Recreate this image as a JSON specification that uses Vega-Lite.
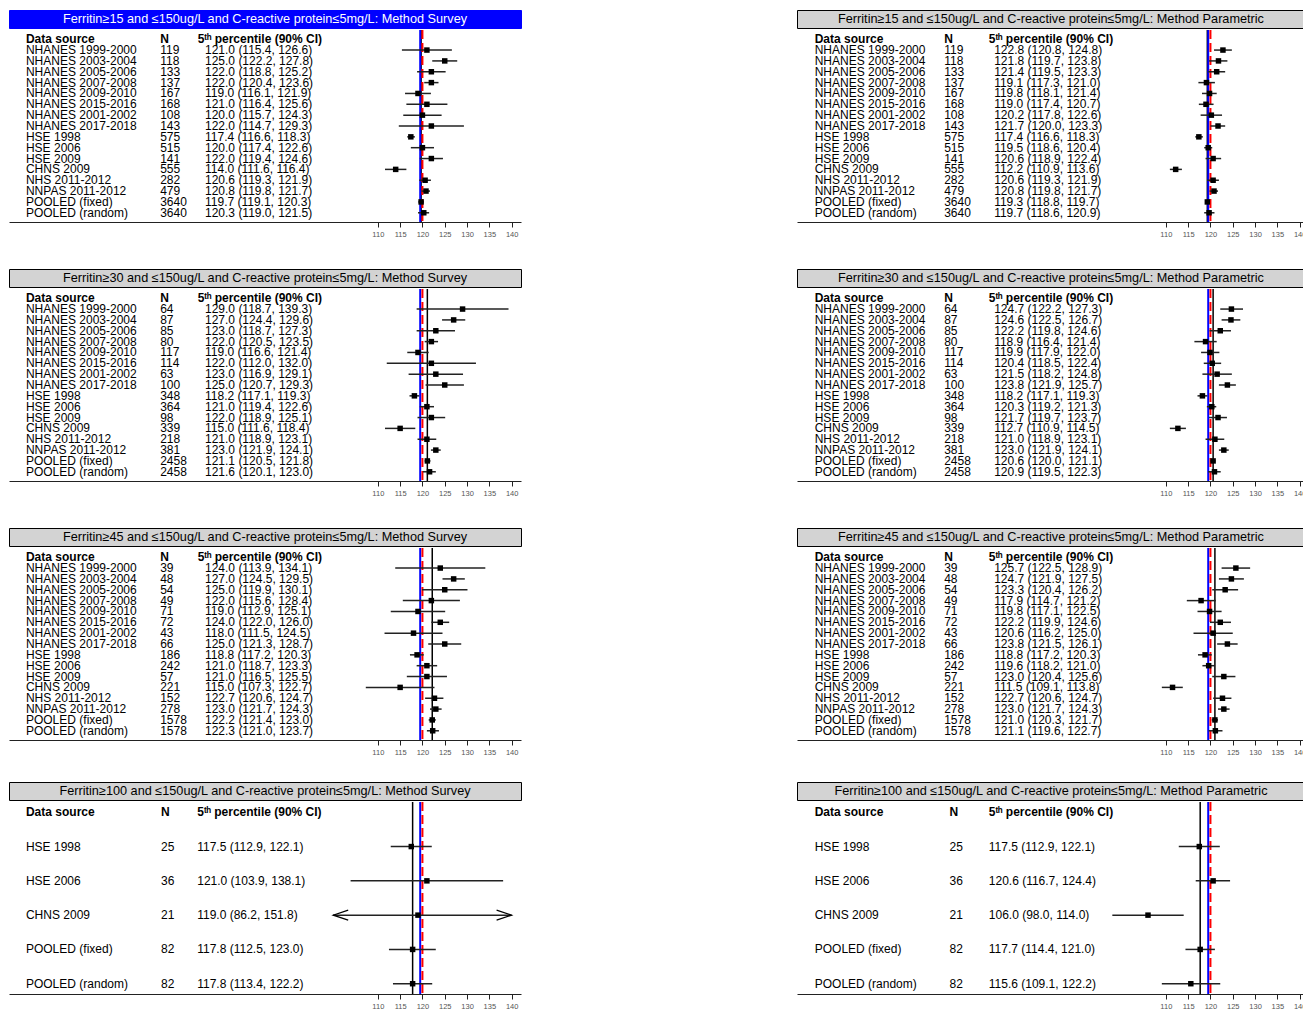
{
"$schema": "https://vega.github.io/schema/vega-lite/v6.json",
"padding": {"left": 8, "top": 9, "right": 0, "bottom": 0},
"background": "white",
"config": {
  "font": "Liberation Sans",
  "view": {"stroke": null},
  "text": {"font": "Liberation Sans", "fontSize": 12, "align": "left", "baseline": "middle", "color": "black"},
  "axisY": {"disable": true},
  "axisX": {"grid": false, "domainColor": "#222222", "domainWidth": 1, "tickColor": "#222222", "tickSize": 5, "tickWidth": 1, "labelFont": "Liberation Sans", "labelFontSize": 7.5, "labelColor": "#555555", "labelPadding": 3}
},
"datasets": {
"p1": [
{"source":"NHANES 1999-2000","n":119,"est":121.0,"lo":115.4,"hi":126.6,"ci":"121.0 (115.4, 126.6)"},
{"source":"NHANES 2003-2004","n":118,"est":125.0,"lo":122.2,"hi":127.8,"ci":"125.0 (122.2, 127.8)"},
{"source":"NHANES 2005-2006","n":133,"est":122.0,"lo":118.8,"hi":125.2,"ci":"122.0 (118.8, 125.2)"},
{"source":"NHANES 2007-2008","n":137,"est":122.0,"lo":120.4,"hi":123.6,"ci":"122.0 (120.4, 123.6)"},
{"source":"NHANES 2009-2010","n":167,"est":119.0,"lo":116.1,"hi":121.9,"ci":"119.0 (116.1, 121.9)"},
{"source":"NHANES 2015-2016","n":168,"est":121.0,"lo":116.4,"hi":125.6,"ci":"121.0 (116.4, 125.6)"},
{"source":"NHANES 2001-2002","n":108,"est":120.0,"lo":115.7,"hi":124.3,"ci":"120.0 (115.7, 124.3)"},
{"source":"NHANES 2017-2018","n":143,"est":122.0,"lo":114.7,"hi":129.3,"ci":"122.0 (114.7, 129.3)"},
{"source":"HSE 1998","n":575,"est":117.4,"lo":116.6,"hi":118.3,"ci":"117.4 (116.6, 118.3)"},
{"source":"HSE 2006","n":515,"est":120.0,"lo":117.4,"hi":122.6,"ci":"120.0 (117.4, 122.6)"},
{"source":"HSE 2009","n":141,"est":122.0,"lo":119.4,"hi":124.6,"ci":"122.0 (119.4, 124.6)"},
{"source":"CHNS 2009","n":555,"est":114.0,"lo":111.6,"hi":116.4,"ci":"114.0 (111.6, 116.4)"},
{"source":"NHS 2011-2012","n":282,"est":120.6,"lo":119.3,"hi":121.9,"ci":"120.6 (119.3, 121.9)"},
{"source":"NNPAS 2011-2012","n":479,"est":120.8,"lo":119.8,"hi":121.7,"ci":"120.8 (119.8, 121.7)"},
{"source":"POOLED (fixed)","n":3640,"est":119.7,"lo":119.1,"hi":120.3,"ci":"119.7 (119.1, 120.3)"},
{"source":"POOLED (random)","n":3640,"est":120.3,"lo":119.0,"hi":121.5,"ci":"120.3 (119.0, 121.5)"}
],
"p2": [
{"source":"NHANES 1999-2000","n":119,"est":122.8,"lo":120.8,"hi":124.8,"ci":"122.8 (120.8, 124.8)"},
{"source":"NHANES 2003-2004","n":118,"est":121.8,"lo":119.7,"hi":123.8,"ci":"121.8 (119.7, 123.8)"},
{"source":"NHANES 2005-2006","n":133,"est":121.4,"lo":119.5,"hi":123.3,"ci":"121.4 (119.5, 123.3)"},
{"source":"NHANES 2007-2008","n":137,"est":119.1,"lo":117.3,"hi":121.0,"ci":"119.1 (117.3, 121.0)"},
{"source":"NHANES 2009-2010","n":167,"est":119.8,"lo":118.1,"hi":121.4,"ci":"119.8 (118.1, 121.4)"},
{"source":"NHANES 2015-2016","n":168,"est":119.0,"lo":117.4,"hi":120.7,"ci":"119.0 (117.4, 120.7)"},
{"source":"NHANES 2001-2002","n":108,"est":120.2,"lo":117.8,"hi":122.6,"ci":"120.2 (117.8, 122.6)"},
{"source":"NHANES 2017-2018","n":143,"est":121.7,"lo":120.0,"hi":123.3,"ci":"121.7 (120.0, 123.3)"},
{"source":"HSE 1998","n":575,"est":117.4,"lo":116.6,"hi":118.3,"ci":"117.4 (116.6, 118.3)"},
{"source":"HSE 2006","n":515,"est":119.5,"lo":118.6,"hi":120.4,"ci":"119.5 (118.6, 120.4)"},
{"source":"HSE 2009","n":141,"est":120.6,"lo":118.9,"hi":122.4,"ci":"120.6 (118.9, 122.4)"},
{"source":"CHNS 2009","n":555,"est":112.2,"lo":110.9,"hi":113.6,"ci":"112.2 (110.9, 113.6)"},
{"source":"NHS 2011-2012","n":282,"est":120.6,"lo":119.3,"hi":121.9,"ci":"120.6 (119.3, 121.9)"},
{"source":"NNPAS 2011-2012","n":479,"est":120.8,"lo":119.8,"hi":121.7,"ci":"120.8 (119.8, 121.7)"},
{"source":"POOLED (fixed)","n":3640,"est":119.3,"lo":118.8,"hi":119.7,"ci":"119.3 (118.8, 119.7)"},
{"source":"POOLED (random)","n":3640,"est":119.7,"lo":118.6,"hi":120.9,"ci":"119.7 (118.6, 120.9)"}
],
"p3": [
{"source":"NHANES 1999-2000","n":64,"est":129.0,"lo":118.7,"hi":139.3,"ci":"129.0 (118.7, 139.3)"},
{"source":"NHANES 2003-2004","n":87,"est":127.0,"lo":124.4,"hi":129.6,"ci":"127.0 (124.4, 129.6)"},
{"source":"NHANES 2005-2006","n":85,"est":123.0,"lo":118.7,"hi":127.3,"ci":"123.0 (118.7, 127.3)"},
{"source":"NHANES 2007-2008","n":80,"est":122.0,"lo":120.5,"hi":123.5,"ci":"122.0 (120.5, 123.5)"},
{"source":"NHANES 2009-2010","n":117,"est":119.0,"lo":116.6,"hi":121.4,"ci":"119.0 (116.6, 121.4)"},
{"source":"NHANES 2015-2016","n":114,"est":122.0,"lo":112.0,"hi":132.0,"ci":"122.0 (112.0, 132.0)"},
{"source":"NHANES 2001-2002","n":63,"est":123.0,"lo":116.9,"hi":129.1,"ci":"123.0 (116.9, 129.1)"},
{"source":"NHANES 2017-2018","n":100,"est":125.0,"lo":120.7,"hi":129.3,"ci":"125.0 (120.7, 129.3)"},
{"source":"HSE 1998","n":348,"est":118.2,"lo":117.1,"hi":119.3,"ci":"118.2 (117.1, 119.3)"},
{"source":"HSE 2006","n":364,"est":121.0,"lo":119.4,"hi":122.6,"ci":"121.0 (119.4, 122.6)"},
{"source":"HSE 2009","n":98,"est":122.0,"lo":118.9,"hi":125.1,"ci":"122.0 (118.9, 125.1)"},
{"source":"CHNS 2009","n":339,"est":115.0,"lo":111.6,"hi":118.4,"ci":"115.0 (111.6, 118.4)"},
{"source":"NHS 2011-2012","n":218,"est":121.0,"lo":118.9,"hi":123.1,"ci":"121.0 (118.9, 123.1)"},
{"source":"NNPAS 2011-2012","n":381,"est":123.0,"lo":121.9,"hi":124.1,"ci":"123.0 (121.9, 124.1)"},
{"source":"POOLED (fixed)","n":2458,"est":121.1,"lo":120.5,"hi":121.8,"ci":"121.1 (120.5, 121.8)"},
{"source":"POOLED (random)","n":2458,"est":121.6,"lo":120.1,"hi":123.0,"ci":"121.6 (120.1, 123.0)"}
],
"p4": [
{"source":"NHANES 1999-2000","n":64,"est":124.7,"lo":122.2,"hi":127.3,"ci":"124.7 (122.2, 127.3)"},
{"source":"NHANES 2003-2004","n":87,"est":124.6,"lo":122.5,"hi":126.7,"ci":"124.6 (122.5, 126.7)"},
{"source":"NHANES 2005-2006","n":85,"est":122.2,"lo":119.8,"hi":124.6,"ci":"122.2 (119.8, 124.6)"},
{"source":"NHANES 2007-2008","n":80,"est":118.9,"lo":116.4,"hi":121.4,"ci":"118.9 (116.4, 121.4)"},
{"source":"NHANES 2009-2010","n":117,"est":119.9,"lo":117.9,"hi":122.0,"ci":"119.9 (117.9, 122.0)"},
{"source":"NHANES 2015-2016","n":114,"est":120.4,"lo":118.5,"hi":122.4,"ci":"120.4 (118.5, 122.4)"},
{"source":"NHANES 2001-2002","n":63,"est":121.5,"lo":118.2,"hi":124.8,"ci":"121.5 (118.2, 124.8)"},
{"source":"NHANES 2017-2018","n":100,"est":123.8,"lo":121.9,"hi":125.7,"ci":"123.8 (121.9, 125.7)"},
{"source":"HSE 1998","n":348,"est":118.2,"lo":117.1,"hi":119.3,"ci":"118.2 (117.1, 119.3)"},
{"source":"HSE 2006","n":364,"est":120.3,"lo":119.2,"hi":121.3,"ci":"120.3 (119.2, 121.3)"},
{"source":"HSE 2009","n":98,"est":121.7,"lo":119.7,"hi":123.7,"ci":"121.7 (119.7, 123.7)"},
{"source":"CHNS 2009","n":339,"est":112.7,"lo":110.9,"hi":114.5,"ci":"112.7 (110.9, 114.5)"},
{"source":"NHS 2011-2012","n":218,"est":121.0,"lo":118.9,"hi":123.1,"ci":"121.0 (118.9, 123.1)"},
{"source":"NNPAS 2011-2012","n":381,"est":123.0,"lo":121.9,"hi":124.1,"ci":"123.0 (121.9, 124.1)"},
{"source":"POOLED (fixed)","n":2458,"est":120.6,"lo":120.0,"hi":121.1,"ci":"120.6 (120.0, 121.1)"},
{"source":"POOLED (random)","n":2458,"est":120.9,"lo":119.5,"hi":122.3,"ci":"120.9 (119.5, 122.3)"}
],
"p5": [
{"source":"NHANES 1999-2000","n":39,"est":124.0,"lo":113.9,"hi":134.1,"ci":"124.0 (113.9, 134.1)"},
{"source":"NHANES 2003-2004","n":48,"est":127.0,"lo":124.5,"hi":129.5,"ci":"127.0 (124.5, 129.5)"},
{"source":"NHANES 2005-2006","n":54,"est":125.0,"lo":119.9,"hi":130.1,"ci":"125.0 (119.9, 130.1)"},
{"source":"NHANES 2007-2008","n":49,"est":122.0,"lo":115.6,"hi":128.4,"ci":"122.0 (115.6, 128.4)"},
{"source":"NHANES 2009-2010","n":71,"est":119.0,"lo":112.9,"hi":125.1,"ci":"119.0 (112.9, 125.1)"},
{"source":"NHANES 2015-2016","n":72,"est":124.0,"lo":122.0,"hi":126.0,"ci":"124.0 (122.0, 126.0)"},
{"source":"NHANES 2001-2002","n":43,"est":118.0,"lo":111.5,"hi":124.5,"ci":"118.0 (111.5, 124.5)"},
{"source":"NHANES 2017-2018","n":66,"est":125.0,"lo":121.3,"hi":128.7,"ci":"125.0 (121.3, 128.7)"},
{"source":"HSE 1998","n":186,"est":118.8,"lo":117.2,"hi":120.3,"ci":"118.8 (117.2, 120.3)"},
{"source":"HSE 2006","n":242,"est":121.0,"lo":118.7,"hi":123.3,"ci":"121.0 (118.7, 123.3)"},
{"source":"HSE 2009","n":57,"est":121.0,"lo":116.5,"hi":125.5,"ci":"121.0 (116.5, 125.5)"},
{"source":"CHNS 2009","n":221,"est":115.0,"lo":107.3,"hi":122.7,"ci":"115.0 (107.3, 122.7)"},
{"source":"NHS 2011-2012","n":152,"est":122.7,"lo":120.6,"hi":124.7,"ci":"122.7 (120.6, 124.7)"},
{"source":"NNPAS 2011-2012","n":278,"est":123.0,"lo":121.7,"hi":124.3,"ci":"123.0 (121.7, 124.3)"},
{"source":"POOLED (fixed)","n":1578,"est":122.2,"lo":121.4,"hi":123.0,"ci":"122.2 (121.4, 123.0)"},
{"source":"POOLED (random)","n":1578,"est":122.3,"lo":121.0,"hi":123.7,"ci":"122.3 (121.0, 123.7)"}
],
"p6": [
{"source":"NHANES 1999-2000","n":39,"est":125.7,"lo":122.5,"hi":128.9,"ci":"125.7 (122.5, 128.9)"},
{"source":"NHANES 2003-2004","n":48,"est":124.7,"lo":121.9,"hi":127.5,"ci":"124.7 (121.9, 127.5)"},
{"source":"NHANES 2005-2006","n":54,"est":123.3,"lo":120.4,"hi":126.2,"ci":"123.3 (120.4, 126.2)"},
{"source":"NHANES 2007-2008","n":49,"est":117.9,"lo":114.7,"hi":121.2,"ci":"117.9 (114.7, 121.2)"},
{"source":"NHANES 2009-2010","n":71,"est":119.8,"lo":117.1,"hi":122.5,"ci":"119.8 (117.1, 122.5)"},
{"source":"NHANES 2015-2016","n":72,"est":122.2,"lo":119.9,"hi":124.6,"ci":"122.2 (119.9, 124.6)"},
{"source":"NHANES 2001-2002","n":43,"est":120.6,"lo":116.2,"hi":125.0,"ci":"120.6 (116.2, 125.0)"},
{"source":"NHANES 2017-2018","n":66,"est":123.8,"lo":121.5,"hi":126.1,"ci":"123.8 (121.5, 126.1)"},
{"source":"HSE 1998","n":186,"est":118.8,"lo":117.2,"hi":120.3,"ci":"118.8 (117.2, 120.3)"},
{"source":"HSE 2006","n":242,"est":119.6,"lo":118.2,"hi":121.0,"ci":"119.6 (118.2, 121.0)"},
{"source":"HSE 2009","n":57,"est":123.0,"lo":120.4,"hi":125.6,"ci":"123.0 (120.4, 125.6)"},
{"source":"CHNS 2009","n":221,"est":111.5,"lo":109.1,"hi":113.8,"ci":"111.5 (109.1, 113.8)"},
{"source":"NHS 2011-2012","n":152,"est":122.7,"lo":120.6,"hi":124.7,"ci":"122.7 (120.6, 124.7)"},
{"source":"NNPAS 2011-2012","n":278,"est":123.0,"lo":121.7,"hi":124.3,"ci":"123.0 (121.7, 124.3)"},
{"source":"POOLED (fixed)","n":1578,"est":121.0,"lo":120.3,"hi":121.7,"ci":"121.0 (120.3, 121.7)"},
{"source":"POOLED (random)","n":1578,"est":121.1,"lo":119.6,"hi":122.7,"ci":"121.1 (119.6, 122.7)"}
],
"p7": [
{"source":"HSE 1998","n":25,"est":117.5,"lo":112.9,"hi":122.1,"ci":"117.5 (112.9, 122.1)"},
{"source":"HSE 2006","n":36,"est":121.0,"lo":103.9,"hi":138.1,"ci":"121.0 (103.9, 138.1)"},
{"source":"CHNS 2009","n":21,"est":119.0,"lo":86.2,"hi":151.8,"ci":"119.0 (86.2, 151.8)"},
{"source":"POOLED (fixed)","n":82,"est":117.8,"lo":112.5,"hi":123.0,"ci":"117.8 (112.5, 123.0)"},
{"source":"POOLED (random)","n":82,"est":117.8,"lo":113.4,"hi":122.2,"ci":"117.8 (113.4, 122.2)"}
],
"p8": [
{"source":"HSE 1998","n":25,"est":117.5,"lo":112.9,"hi":122.1,"ci":"117.5 (112.9, 122.1)"},
{"source":"HSE 2006","n":36,"est":120.6,"lo":116.7,"hi":124.4,"ci":"120.6 (116.7, 124.4)"},
{"source":"CHNS 2009","n":21,"est":106.0,"lo":98.0,"hi":114.0,"ci":"106.0 (98.0, 114.0)"},
{"source":"POOLED (fixed)","n":82,"est":117.7,"lo":114.4,"hi":121.0,"ci":"117.7 (114.4, 121.0)"},
{"source":"POOLED (random)","n":82,"est":115.6,"lo":109.1,"hi":122.2,"ci":"115.6 (109.1, 122.2)"}
]
},
"vconcat": [
{"vconcat": [
{"hconcat": [
{"vconcat": [
{"width": 512, "height": 18, "view": {"fill": "#0000ff", "stroke": "#0000ff"}, "data": {"values": [{"t": "Ferritin≥15 and ≤150ug/L and C-reactive protein≤5mg/L: Method Survey"}]}, "mark": {"type": "text", "align": "center", "fontSize": 12.7, "color": "white"}, "encoding": {"text": {"field": "t"}}},
{"width": 512, "height": 192, "data": {"name": "p1"}, "layer": [
{"transform": [{"filter": "datum.source === 'POOLED (fixed)'"}], "mark": {"type": "rule", "color": "black", "strokeWidth": 1.5}, "encoding": {"x": {"field": "est", "type": "quantitative", "scale": {"domain": [27.3, 142.1], "nice": false, "zero": false}, "axis": {"title": null, "values": [110,115,120,125,130,135,140]}}}},
{"data": {"values": [{}]}, "mark": {"type": "rule", "color": "#0000ff", "strokeWidth": 2}, "encoding": {"x": {"datum": 119.5, "type": "quantitative"}}},
{"data": {"values": [{}]}, "mark": {"type": "rule", "color": "#ff0000", "strokeWidth": 2, "strokeDash": [9, 4]}, "encoding": {"x": {"datum": 120, "type": "quantitative"}}},
{"mark": {"type": "rule", "color": "#222222", "strokeWidth": 1.5}, "encoding": {"x": {"field": "lo", "type": "quantitative", "title": null}, "x2": {"field": "hi"}, "y": {"field": "source", "type": "nominal", "scale": {"type": "point", "padding": 0.85, "domain": ["Data source","NHANES 1999-2000","NHANES 2003-2004","NHANES 2005-2006","NHANES 2007-2008","NHANES 2009-2010","NHANES 2015-2016","NHANES 2001-2002","NHANES 2017-2018","HSE 1998","HSE 2006","HSE 2009","CHNS 2009","NHS 2011-2012","NNPAS 2011-2012","POOLED (fixed)","POOLED (random)"]}}}},
{"mark": {"type": "square", "color": "black", "filled": true, "opacity": 1, "size": 30}, "encoding": {"x": {"field": "est", "type": "quantitative", "title": null}, "y": {"field": "source", "type": "nominal"}}},
{"data": {"values": [{}]}, "mark": {"type": "text", "text": "Data source", "fontWeight": "bold"}, "encoding": {"x": {"datum": 31.1, "type": "quantitative"}, "y": {"datum": "Data source", "type": "nominal"}}},
{"data": {"values": [{}]}, "mark": {"type": "text", "text": "N", "fontWeight": "bold"}, "encoding": {"x": {"datum": 61.2, "type": "quantitative"}, "y": {"datum": "Data source", "type": "nominal"}}},
{"data": {"values": [{}]}, "mark": {"type": "text", "text": "5ᵗʰ percentile (90% CI)", "fontWeight": "bold"}, "encoding": {"x": {"datum": 69.6, "type": "quantitative"}, "y": {"datum": "Data source", "type": "nominal"}}},
{"mark": {"type": "text"}, "encoding": {"x": {"datum": 31.1, "type": "quantitative"}, "y": {"field": "source", "type": "nominal"}, "text": {"field": "source"}}},
{"mark": {"type": "text"}, "encoding": {"x": {"datum": 61.2, "type": "quantitative"}, "y": {"field": "source", "type": "nominal"}, "text": {"field": "n"}}},
{"mark": {"type": "text"}, "encoding": {"x": {"datum": 71.25, "type": "quantitative"}, "y": {"field": "source", "type": "nominal"}, "text": {"field": "ci"}}}
]}
], "spacing": 0},
{"vconcat": [
{"width": 508, "height": 18, "view": {"fill": "#d3d3d3", "stroke": "black"}, "data": {"values": [{"t": "Ferritin≥15 and ≤150ug/L and C-reactive protein≤5mg/L: Method Parametric"}]}, "mark": {"type": "text", "align": "center", "fontSize": 12.7}, "encoding": {"text": {"field": "t"}}},
{"width": 508, "height": 192, "data": {"name": "p2"}, "layer": [
{"transform": [{"filter": "datum.source === 'POOLED (fixed)'"}], "mark": {"type": "rule", "color": "black", "strokeWidth": 1.5}, "encoding": {"x": {"field": "est", "type": "quantitative", "scale": {"domain": [27.3, 141.2], "nice": false, "zero": false}, "axis": {"title": null, "values": [110,115,120,125,130,135,140]}}}},
{"data": {"values": [{}]}, "mark": {"type": "rule", "color": "#0000ff", "strokeWidth": 2}, "encoding": {"x": {"datum": 119.5, "type": "quantitative"}}},
{"data": {"values": [{}]}, "mark": {"type": "rule", "color": "#ff0000", "strokeWidth": 2, "strokeDash": [9, 4]}, "encoding": {"x": {"datum": 120, "type": "quantitative"}}},
{"mark": {"type": "rule", "color": "#222222", "strokeWidth": 1.5}, "encoding": {"x": {"field": "lo", "type": "quantitative", "title": null}, "x2": {"field": "hi"}, "y": {"field": "source", "type": "nominal", "scale": {"type": "point", "padding": 0.85, "domain": ["Data source","NHANES 1999-2000","NHANES 2003-2004","NHANES 2005-2006","NHANES 2007-2008","NHANES 2009-2010","NHANES 2015-2016","NHANES 2001-2002","NHANES 2017-2018","HSE 1998","HSE 2006","HSE 2009","CHNS 2009","NHS 2011-2012","NNPAS 2011-2012","POOLED (fixed)","POOLED (random)"]}}}},
{"mark": {"type": "square", "color": "black", "filled": true, "opacity": 1, "size": 30}, "encoding": {"x": {"field": "est", "type": "quantitative", "title": null}, "y": {"field": "source", "type": "nominal"}}},
{"data": {"values": [{}]}, "mark": {"type": "text", "text": "Data source", "fontWeight": "bold"}, "encoding": {"x": {"datum": 31.27, "type": "quantitative"}, "y": {"datum": "Data source", "type": "nominal"}}},
{"data": {"values": [{}]}, "mark": {"type": "text", "text": "N", "fontWeight": "bold"}, "encoding": {"x": {"datum": 60.3, "type": "quantitative"}, "y": {"datum": "Data source", "type": "nominal"}}},
{"data": {"values": [{}]}, "mark": {"type": "text", "text": "5ᵗʰ percentile (90% CI)", "fontWeight": "bold"}, "encoding": {"x": {"datum": 70.3, "type": "quantitative"}, "y": {"datum": "Data source", "type": "nominal"}}},
{"mark": {"type": "text"}, "encoding": {"x": {"datum": 31.27, "type": "quantitative"}, "y": {"field": "source", "type": "nominal"}, "text": {"field": "source"}}},
{"mark": {"type": "text"}, "encoding": {"x": {"datum": 60.3, "type": "quantitative"}, "y": {"field": "source", "type": "nominal"}, "text": {"field": "n"}}},
{"mark": {"type": "text"}, "encoding": {"x": {"datum": 71.5, "type": "quantitative"}, "y": {"field": "source", "type": "nominal"}, "text": {"field": "ci"}}}
]}
], "spacing": 0}
], "spacing": 274},
{"hconcat": [
{"vconcat": [
{"width": 512, "height": 18, "view": {"fill": "#d3d3d3", "stroke": "black"}, "data": {"values": [{"t": "Ferritin≥30 and ≤150ug/L and C-reactive protein≤5mg/L: Method Survey"}]}, "mark": {"type": "text", "align": "center", "fontSize": 12.7}, "encoding": {"text": {"field": "t"}}},
{"width": 512, "height": 192, "data": {"name": "p3"}, "layer": [
{"transform": [{"filter": "datum.source === 'POOLED (fixed)'"}], "mark": {"type": "rule", "color": "black", "strokeWidth": 1.5}, "encoding": {"x": {"field": "est", "type": "quantitative", "scale": {"domain": [27.3, 142.1], "nice": false, "zero": false}, "axis": {"title": null, "values": [110,115,120,125,130,135,140]}}}},
{"data": {"values": [{}]}, "mark": {"type": "rule", "color": "#0000ff", "strokeWidth": 2}, "encoding": {"x": {"datum": 119.5, "type": "quantitative"}}},
{"data": {"values": [{}]}, "mark": {"type": "rule", "color": "#ff0000", "strokeWidth": 2, "strokeDash": [9, 4]}, "encoding": {"x": {"datum": 120, "type": "quantitative"}}},
{"mark": {"type": "rule", "color": "#222222", "strokeWidth": 1.5}, "encoding": {"x": {"field": "lo", "type": "quantitative", "title": null}, "x2": {"field": "hi"}, "y": {"field": "source", "type": "nominal", "scale": {"type": "point", "padding": 0.85, "domain": ["Data source","NHANES 1999-2000","NHANES 2003-2004","NHANES 2005-2006","NHANES 2007-2008","NHANES 2009-2010","NHANES 2015-2016","NHANES 2001-2002","NHANES 2017-2018","HSE 1998","HSE 2006","HSE 2009","CHNS 2009","NHS 2011-2012","NNPAS 2011-2012","POOLED (fixed)","POOLED (random)"]}}}},
{"mark": {"type": "square", "color": "black", "filled": true, "opacity": 1, "size": 30}, "encoding": {"x": {"field": "est", "type": "quantitative", "title": null}, "y": {"field": "source", "type": "nominal"}}},
{"data": {"values": [{}]}, "mark": {"type": "text", "text": "Data source", "fontWeight": "bold"}, "encoding": {"x": {"datum": 31.1, "type": "quantitative"}, "y": {"datum": "Data source", "type": "nominal"}}},
{"data": {"values": [{}]}, "mark": {"type": "text", "text": "N", "fontWeight": "bold"}, "encoding": {"x": {"datum": 61.2, "type": "quantitative"}, "y": {"datum": "Data source", "type": "nominal"}}},
{"data": {"values": [{}]}, "mark": {"type": "text", "text": "5ᵗʰ percentile (90% CI)", "fontWeight": "bold"}, "encoding": {"x": {"datum": 69.6, "type": "quantitative"}, "y": {"datum": "Data source", "type": "nominal"}}},
{"mark": {"type": "text"}, "encoding": {"x": {"datum": 31.1, "type": "quantitative"}, "y": {"field": "source", "type": "nominal"}, "text": {"field": "source"}}},
{"mark": {"type": "text"}, "encoding": {"x": {"datum": 61.2, "type": "quantitative"}, "y": {"field": "source", "type": "nominal"}, "text": {"field": "n"}}},
{"mark": {"type": "text"}, "encoding": {"x": {"datum": 71.25, "type": "quantitative"}, "y": {"field": "source", "type": "nominal"}, "text": {"field": "ci"}}}
]}
], "spacing": 0},
{"vconcat": [
{"width": 508, "height": 18, "view": {"fill": "#d3d3d3", "stroke": "black"}, "data": {"values": [{"t": "Ferritin≥30 and ≤150ug/L and C-reactive protein≤5mg/L: Method Parametric"}]}, "mark": {"type": "text", "align": "center", "fontSize": 12.7}, "encoding": {"text": {"field": "t"}}},
{"width": 508, "height": 192, "data": {"name": "p4"}, "layer": [
{"transform": [{"filter": "datum.source === 'POOLED (fixed)'"}], "mark": {"type": "rule", "color": "black", "strokeWidth": 1.5}, "encoding": {"x": {"field": "est", "type": "quantitative", "scale": {"domain": [27.3, 141.2], "nice": false, "zero": false}, "axis": {"title": null, "values": [110,115,120,125,130,135,140]}}}},
{"data": {"values": [{}]}, "mark": {"type": "rule", "color": "#0000ff", "strokeWidth": 2}, "encoding": {"x": {"datum": 119.5, "type": "quantitative"}}},
{"data": {"values": [{}]}, "mark": {"type": "rule", "color": "#ff0000", "strokeWidth": 2, "strokeDash": [9, 4]}, "encoding": {"x": {"datum": 120, "type": "quantitative"}}},
{"mark": {"type": "rule", "color": "#222222", "strokeWidth": 1.5}, "encoding": {"x": {"field": "lo", "type": "quantitative", "title": null}, "x2": {"field": "hi"}, "y": {"field": "source", "type": "nominal", "scale": {"type": "point", "padding": 0.85, "domain": ["Data source","NHANES 1999-2000","NHANES 2003-2004","NHANES 2005-2006","NHANES 2007-2008","NHANES 2009-2010","NHANES 2015-2016","NHANES 2001-2002","NHANES 2017-2018","HSE 1998","HSE 2006","HSE 2009","CHNS 2009","NHS 2011-2012","NNPAS 2011-2012","POOLED (fixed)","POOLED (random)"]}}}},
{"mark": {"type": "square", "color": "black", "filled": true, "opacity": 1, "size": 30}, "encoding": {"x": {"field": "est", "type": "quantitative", "title": null}, "y": {"field": "source", "type": "nominal"}}},
{"data": {"values": [{}]}, "mark": {"type": "text", "text": "Data source", "fontWeight": "bold"}, "encoding": {"x": {"datum": 31.27, "type": "quantitative"}, "y": {"datum": "Data source", "type": "nominal"}}},
{"data": {"values": [{}]}, "mark": {"type": "text", "text": "N", "fontWeight": "bold"}, "encoding": {"x": {"datum": 60.3, "type": "quantitative"}, "y": {"datum": "Data source", "type": "nominal"}}},
{"data": {"values": [{}]}, "mark": {"type": "text", "text": "5ᵗʰ percentile (90% CI)", "fontWeight": "bold"}, "encoding": {"x": {"datum": 70.3, "type": "quantitative"}, "y": {"datum": "Data source", "type": "nominal"}}},
{"mark": {"type": "text"}, "encoding": {"x": {"datum": 31.27, "type": "quantitative"}, "y": {"field": "source", "type": "nominal"}, "text": {"field": "source"}}},
{"mark": {"type": "text"}, "encoding": {"x": {"datum": 60.3, "type": "quantitative"}, "y": {"field": "source", "type": "nominal"}, "text": {"field": "n"}}},
{"mark": {"type": "text"}, "encoding": {"x": {"datum": 71.5, "type": "quantitative"}, "y": {"field": "source", "type": "nominal"}, "text": {"field": "ci"}}}
]}
], "spacing": 0}
], "spacing": 274},
{"hconcat": [
{"vconcat": [
{"width": 512, "height": 18, "view": {"fill": "#d3d3d3", "stroke": "black"}, "data": {"values": [{"t": "Ferritin≥45 and ≤150ug/L and C-reactive protein≤5mg/L: Method Survey"}]}, "mark": {"type": "text", "align": "center", "fontSize": 12.7}, "encoding": {"text": {"field": "t"}}},
{"width": 512, "height": 192, "data": {"name": "p5"}, "layer": [
{"transform": [{"filter": "datum.source === 'POOLED (fixed)'"}], "mark": {"type": "rule", "color": "black", "strokeWidth": 1.5}, "encoding": {"x": {"field": "est", "type": "quantitative", "scale": {"domain": [27.3, 142.1], "nice": false, "zero": false}, "axis": {"title": null, "values": [110,115,120,125,130,135,140]}}}},
{"data": {"values": [{}]}, "mark": {"type": "rule", "color": "#0000ff", "strokeWidth": 2}, "encoding": {"x": {"datum": 119.5, "type": "quantitative"}}},
{"data": {"values": [{}]}, "mark": {"type": "rule", "color": "#ff0000", "strokeWidth": 2, "strokeDash": [9, 4]}, "encoding": {"x": {"datum": 120, "type": "quantitative"}}},
{"mark": {"type": "rule", "color": "#222222", "strokeWidth": 1.5}, "encoding": {"x": {"field": "lo", "type": "quantitative", "title": null}, "x2": {"field": "hi"}, "y": {"field": "source", "type": "nominal", "scale": {"type": "point", "padding": 0.85, "domain": ["Data source","NHANES 1999-2000","NHANES 2003-2004","NHANES 2005-2006","NHANES 2007-2008","NHANES 2009-2010","NHANES 2015-2016","NHANES 2001-2002","NHANES 2017-2018","HSE 1998","HSE 2006","HSE 2009","CHNS 2009","NHS 2011-2012","NNPAS 2011-2012","POOLED (fixed)","POOLED (random)"]}}}},
{"mark": {"type": "square", "color": "black", "filled": true, "opacity": 1, "size": 30}, "encoding": {"x": {"field": "est", "type": "quantitative", "title": null}, "y": {"field": "source", "type": "nominal"}}},
{"data": {"values": [{}]}, "mark": {"type": "text", "text": "Data source", "fontWeight": "bold"}, "encoding": {"x": {"datum": 31.1, "type": "quantitative"}, "y": {"datum": "Data source", "type": "nominal"}}},
{"data": {"values": [{}]}, "mark": {"type": "text", "text": "N", "fontWeight": "bold"}, "encoding": {"x": {"datum": 61.2, "type": "quantitative"}, "y": {"datum": "Data source", "type": "nominal"}}},
{"data": {"values": [{}]}, "mark": {"type": "text", "text": "5ᵗʰ percentile (90% CI)", "fontWeight": "bold"}, "encoding": {"x": {"datum": 69.6, "type": "quantitative"}, "y": {"datum": "Data source", "type": "nominal"}}},
{"mark": {"type": "text"}, "encoding": {"x": {"datum": 31.1, "type": "quantitative"}, "y": {"field": "source", "type": "nominal"}, "text": {"field": "source"}}},
{"mark": {"type": "text"}, "encoding": {"x": {"datum": 61.2, "type": "quantitative"}, "y": {"field": "source", "type": "nominal"}, "text": {"field": "n"}}},
{"mark": {"type": "text"}, "encoding": {"x": {"datum": 71.25, "type": "quantitative"}, "y": {"field": "source", "type": "nominal"}, "text": {"field": "ci"}}}
]}
], "spacing": 0},
{"vconcat": [
{"width": 508, "height": 18, "view": {"fill": "#d3d3d3", "stroke": "black"}, "data": {"values": [{"t": "Ferritin≥45 and ≤150ug/L and C-reactive protein≤5mg/L: Method Parametric"}]}, "mark": {"type": "text", "align": "center", "fontSize": 12.7}, "encoding": {"text": {"field": "t"}}},
{"width": 508, "height": 192, "data": {"name": "p6"}, "layer": [
{"transform": [{"filter": "datum.source === 'POOLED (fixed)'"}], "mark": {"type": "rule", "color": "black", "strokeWidth": 1.5}, "encoding": {"x": {"field": "est", "type": "quantitative", "scale": {"domain": [27.3, 141.2], "nice": false, "zero": false}, "axis": {"title": null, "values": [110,115,120,125,130,135,140]}}}},
{"data": {"values": [{}]}, "mark": {"type": "rule", "color": "#0000ff", "strokeWidth": 2}, "encoding": {"x": {"datum": 119.5, "type": "quantitative"}}},
{"data": {"values": [{}]}, "mark": {"type": "rule", "color": "#ff0000", "strokeWidth": 2, "strokeDash": [9, 4]}, "encoding": {"x": {"datum": 120, "type": "quantitative"}}},
{"mark": {"type": "rule", "color": "#222222", "strokeWidth": 1.5}, "encoding": {"x": {"field": "lo", "type": "quantitative", "title": null}, "x2": {"field": "hi"}, "y": {"field": "source", "type": "nominal", "scale": {"type": "point", "padding": 0.85, "domain": ["Data source","NHANES 1999-2000","NHANES 2003-2004","NHANES 2005-2006","NHANES 2007-2008","NHANES 2009-2010","NHANES 2015-2016","NHANES 2001-2002","NHANES 2017-2018","HSE 1998","HSE 2006","HSE 2009","CHNS 2009","NHS 2011-2012","NNPAS 2011-2012","POOLED (fixed)","POOLED (random)"]}}}},
{"mark": {"type": "square", "color": "black", "filled": true, "opacity": 1, "size": 30}, "encoding": {"x": {"field": "est", "type": "quantitative", "title": null}, "y": {"field": "source", "type": "nominal"}}},
{"data": {"values": [{}]}, "mark": {"type": "text", "text": "Data source", "fontWeight": "bold"}, "encoding": {"x": {"datum": 31.27, "type": "quantitative"}, "y": {"datum": "Data source", "type": "nominal"}}},
{"data": {"values": [{}]}, "mark": {"type": "text", "text": "N", "fontWeight": "bold"}, "encoding": {"x": {"datum": 60.3, "type": "quantitative"}, "y": {"datum": "Data source", "type": "nominal"}}},
{"data": {"values": [{}]}, "mark": {"type": "text", "text": "5ᵗʰ percentile (90% CI)", "fontWeight": "bold"}, "encoding": {"x": {"datum": 70.3, "type": "quantitative"}, "y": {"datum": "Data source", "type": "nominal"}}},
{"mark": {"type": "text"}, "encoding": {"x": {"datum": 31.27, "type": "quantitative"}, "y": {"field": "source", "type": "nominal"}, "text": {"field": "source"}}},
{"mark": {"type": "text"}, "encoding": {"x": {"datum": 60.3, "type": "quantitative"}, "y": {"field": "source", "type": "nominal"}, "text": {"field": "n"}}},
{"mark": {"type": "text"}, "encoding": {"x": {"datum": 71.5, "type": "quantitative"}, "y": {"field": "source", "type": "nominal"}, "text": {"field": "ci"}}}
]}
], "spacing": 0}
], "spacing": 274}
], "spacing": 30},
{"hconcat": [
{"vconcat": [
{"width": 512, "height": 18, "view": {"fill": "#d3d3d3", "stroke": "black"}, "data": {"values": [{"t": "Ferritin≥100 and ≤150ug/L and C-reactive protein≤5mg/L: Method Survey"}]}, "mark": {"type": "text", "align": "center", "fontSize": 12.7}, "encoding": {"text": {"field": "t"}}},
{"width": 512, "height": 192, "data": {"name": "p7"}, "resolve": {"scale": {"x": "independent"}, "axis": {"x": "independent"}}, "layer": [
{"layer": [
{"transform": [{"filter": "datum.source === 'POOLED (fixed)'"}], "mark": {"type": "rule", "color": "black", "strokeWidth": 1.5}, "encoding": {"x": {"field": "est", "type": "quantitative", "scale": {"domain": [27.3, 142.1], "nice": false, "zero": false}, "axis": {"title": null, "values": [110,115,120,125,130,135,140]}}}},
{"data": {"values": [{}]}, "mark": {"type": "rule", "color": "#0000ff", "strokeWidth": 2}, "encoding": {"x": {"datum": 119.5, "type": "quantitative"}}},
{"data": {"values": [{}]}, "mark": {"type": "rule", "color": "#ff0000", "strokeWidth": 2, "strokeDash": [9, 4]}, "encoding": {"x": {"datum": 120, "type": "quantitative"}}}
]},
{"layer": [
{"mark": {"type": "rule", "color": "#222222", "strokeWidth": 1.5}, "encoding": {"x": {"field": "lo", "type": "quantitative", "axis": null, "scale": {"domain": [100, 140], "range": [324.2, 502.6], "clamp": true, "nice": false, "zero": false}}, "x2": {"field": "hi"}, "y": {"field": "source", "type": "nominal", "scale": {"type": "point", "padding": 0.3, "domain": ["Data source","HSE 1998","HSE 2006","CHNS 2009","POOLED (fixed)","POOLED (random)"]}}}},
{"transform": [{"filter": "datum.lo < 100"}], "mark": {"type": "point", "shape": "M 2 -0.67 L 0 0 L 2 0.67", "filled": false, "color": "black", "strokeWidth": 1.2, "opacity": 1, "size": 225}, "encoding": {"x": {"field": "lo", "type": "quantitative"}, "y": {"field": "source", "type": "nominal"}}},
{"transform": [{"filter": "datum.hi > 140"}], "mark": {"type": "point", "shape": "M -2 -0.67 L 0 0 L -2 0.67", "filled": false, "color": "black", "strokeWidth": 1.2, "opacity": 1, "size": 225}, "encoding": {"x": {"field": "hi", "type": "quantitative"}, "y": {"field": "source", "type": "nominal"}}}
]},
{"layer": [
{"mark": {"type": "square", "color": "black", "filled": true, "opacity": 1, "size": 30}, "encoding": {"x": {"field": "est", "type": "quantitative", "axis": null, "scale": {"domain": [27.3, 142.1], "nice": false, "zero": false}}, "y": {"field": "source", "type": "nominal"}}},
{"data": {"values": [{}]}, "mark": {"type": "text", "text": "Data source", "fontWeight": "bold"}, "encoding": {"x": {"datum": 31.1, "type": "quantitative"}, "y": {"datum": "Data source", "type": "nominal"}}},
{"data": {"values": [{}]}, "mark": {"type": "text", "text": "N", "fontWeight": "bold"}, "encoding": {"x": {"datum": 61.4, "type": "quantitative"}, "y": {"datum": "Data source", "type": "nominal"}}},
{"data": {"values": [{}]}, "mark": {"type": "text", "text": "5ᵗʰ percentile (90% CI)", "fontWeight": "bold"}, "encoding": {"x": {"datum": 69.5, "type": "quantitative"}, "y": {"datum": "Data source", "type": "nominal"}}},
{"mark": {"type": "text"}, "encoding": {"x": {"datum": 31.1, "type": "quantitative"}, "y": {"field": "source", "type": "nominal"}, "text": {"field": "source"}}},
{"mark": {"type": "text"}, "encoding": {"x": {"datum": 61.4, "type": "quantitative"}, "y": {"field": "source", "type": "nominal"}, "text": {"field": "n"}}},
{"mark": {"type": "text"}, "encoding": {"x": {"datum": 69.5, "type": "quantitative"}, "y": {"field": "source", "type": "nominal"}, "text": {"field": "ci"}}}
]}
]}
], "spacing": 0},
{"vconcat": [
{"width": 508, "height": 18, "view": {"fill": "#d3d3d3", "stroke": "black"}, "data": {"values": [{"t": "Ferritin≥100 and ≤150ug/L and C-reactive protein≤5mg/L: Method Parametric"}]}, "mark": {"type": "text", "align": "center", "fontSize": 12.7}, "encoding": {"text": {"field": "t"}}},
{"width": 508, "height": 192, "data": {"name": "p8"}, "layer": [
{"transform": [{"filter": "datum.source === 'POOLED (fixed)'"}], "mark": {"type": "rule", "color": "black", "strokeWidth": 1.5}, "encoding": {"x": {"field": "est", "type": "quantitative", "scale": {"domain": [27.3, 141.2], "nice": false, "zero": false}, "axis": {"title": null, "values": [110,115,120,125,130,135,140]}}}},
{"data": {"values": [{}]}, "mark": {"type": "rule", "color": "#0000ff", "strokeWidth": 2}, "encoding": {"x": {"datum": 119.5, "type": "quantitative"}}},
{"data": {"values": [{}]}, "mark": {"type": "rule", "color": "#ff0000", "strokeWidth": 2, "strokeDash": [9, 4]}, "encoding": {"x": {"datum": 120, "type": "quantitative"}}},
{"mark": {"type": "rule", "color": "#222222", "strokeWidth": 1.5}, "encoding": {"x": {"field": "lo", "type": "quantitative", "title": null}, "x2": {"field": "hi"}, "y": {"field": "source", "type": "nominal", "scale": {"type": "point", "padding": 0.3, "domain": ["Data source","HSE 1998","HSE 2006","CHNS 2009","POOLED (fixed)","POOLED (random)"]}}}},
{"mark": {"type": "square", "color": "black", "filled": true, "opacity": 1, "size": 30}, "encoding": {"x": {"field": "est", "type": "quantitative", "title": null}, "y": {"field": "source", "type": "nominal"}}},
{"data": {"values": [{}]}, "mark": {"type": "text", "text": "Data source", "fontWeight": "bold"}, "encoding": {"x": {"datum": 31.27, "type": "quantitative"}, "y": {"datum": "Data source", "type": "nominal"}}},
{"data": {"values": [{}]}, "mark": {"type": "text", "text": "N", "fontWeight": "bold"}, "encoding": {"x": {"datum": 61.5, "type": "quantitative"}, "y": {"datum": "Data source", "type": "nominal"}}},
{"data": {"values": [{}]}, "mark": {"type": "text", "text": "5ᵗʰ percentile (90% CI)", "fontWeight": "bold"}, "encoding": {"x": {"datum": 70.3, "type": "quantitative"}, "y": {"datum": "Data source", "type": "nominal"}}},
{"mark": {"type": "text"}, "encoding": {"x": {"datum": 31.27, "type": "quantitative"}, "y": {"field": "source", "type": "nominal"}, "text": {"field": "source"}}},
{"mark": {"type": "text"}, "encoding": {"x": {"datum": 61.5, "type": "quantitative"}, "y": {"field": "source", "type": "nominal"}, "text": {"field": "n"}}},
{"mark": {"type": "text"}, "encoding": {"x": {"datum": 70.3, "type": "quantitative"}, "y": {"field": "source", "type": "nominal"}, "text": {"field": "ci"}}}
]}
], "spacing": 0}
], "spacing": 274}
], "spacing": 25}
